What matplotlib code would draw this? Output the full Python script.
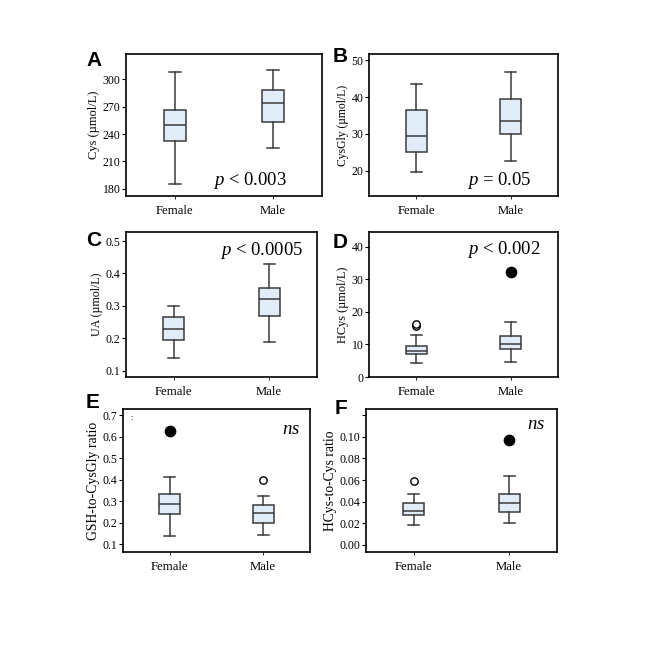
import numpy as np
import matplotlib
matplotlib.use("Agg")
import matplotlib.pyplot as plt

plt.rcParams["font.family"] = "Liberation Serif"
plt.rcParams["mathtext.fontset"] = "custom"
plt.rcParams["mathtext.rm"] = "Liberation Serif"
plt.rcParams["mathtext.it"] = "Liberation Serif:italic"

''' Data (read off the figure): whisker low, Q1, median, Q3, whisker high '''
groups = ["Female", "Male"]

cys_female = [185, 232, 250, 266, 308]
cys_male = [225, 253, 274, 289, 310]

cysgly_female = [19.5, 25.0, 29.5, 36.5, 43.5]
cysgly_male = [22.7, 30.0, 33.5, 39.5, 46.8]

ua_female = [0.14, 0.195, 0.23, 0.265, 0.30]
ua_male = [0.19, 0.27, 0.32, 0.355, 0.43]

hcys_female = [4.3, 7.0, 8.0, 9.5, 12.8]
hcys_male = [4.5, 8.7, 10.2, 12.7, 16.8]
hcys_open = [[15.5, 16.3], []]
hcys_filled = [[], [32.2]]

gsh_female = [0.14, 0.24, 0.287, 0.332, 0.41]
gsh_male = [0.142, 0.197, 0.243, 0.28, 0.322]
gsh_open = [[], [0.398]]
gsh_filled = [[0.625], []]

ratio_female = [0.018, 0.028, 0.031, 0.039, 0.047]
ratio_male = [0.020, 0.030, 0.039, 0.047, 0.064]
ratio_open = [[0.059], []]
ratio_filled = [[], [0.097]]

''' Panel setup '''
panels = [
  dict(letter="A", stats=[cys_female, cys_male], open=[[], []], filled=[[], []],
       ylabel="Cys (µmol/L)", ylsize=9, ylim=(172, 328), yticks=[180, 210, 240, 270, 300], fmt="%d",
       txt=r"$p$ < 0.003", tx=0.82, ty=0.11,
       rect=[126, 54, 196, 142], lx=86, ly=60),
  dict(letter="B", stats=[cysgly_female, cysgly_male], open=[[], []], filled=[[], []],
       ylabel="CysGly (µmol/L)", ylsize=8.4, ylim=(13.1, 51.7), yticks=[20, 30, 40, 50], fmt="%d",
       txt=r"$p$ = 0.05", tx=0.86, ty=0.11,
       rect=[369, 54, 189, 142], lx=333, ly=57),
  dict(letter="C", stats=[ua_female, ua_male], open=[[], []], filled=[[], []],
       ylabel="UA (µmol/L)", ylsize=8.6, ylim=(0.0805, 0.528), yticks=[0.1, 0.2, 0.3, 0.4, 0.5], fmt="%.1f",
       txt=r"$p$ < 0.0005", tx=0.93, ty=0.87,
       rect=[126, 232, 191, 145], lx=86, ly=241),
  dict(letter="D", stats=[hcys_female, hcys_male], open=hcys_open, filled=hcys_filled,
       ylabel="HCys (µmol/L)", ylsize=8.8, ylim=(0, 44.5), yticks=[0, 10, 20, 30, 40], fmt="%d",
       txt=r"$p$ < 0.002", tx=0.91, ty=0.88,
       rect=[369, 232, 189, 145], lx=333, ly=243),
  dict(letter="E", stats=[gsh_female, gsh_male], open=gsh_open, filled=gsh_filled,
       ylabel="GSH-to-CysGly ratio", ylsize=9.9, ylim=(0.064, 0.728),
       yticks=[0.1, 0.2, 0.3, 0.4, 0.5, 0.6, 0.7], fmt="%.1f",
       txt=r"$ns$", tx=0.945, ty=0.86,
       rect=[123, 409, 187, 143], lx=86, ly=403),
  dict(letter="F", stats=[ratio_female, ratio_male], open=ratio_open, filled=ratio_filled,
       ylabel="HCys-to-Cys ratio", ylsize=9.8, ylim=(-0.0065, 0.1256),
       yticks=[0.0, 0.02, 0.04, 0.06, 0.08, 0.10, 0.12], fmt="%.2f",
       txt=r"$ns$", tx=0.94, ty=0.89,
       rect=[366, 409, 191, 143], lx=335, ly=408),
]

W, H = 662, 659
fig = plt.figure(figsize=(W / 100, H / 100), dpi=100)

box_face = "#e1ecf9"
edge = "#3a3a3a"

for p in panels:
  x0, y0, w, h = p["rect"]
  ax = fig.add_axes([x0 / W, (H - y0 - h) / H, w / W, h / H])
  bxp_stats = []
  for s, name in zip(p["stats"], groups):
    bxp_stats.append(dict(whislo=s[0], q1=s[1], med=s[2], q3=s[3], whishi=s[4],
                          fliers=[], label=name))
  ax.bxp(bxp_stats, positions=[1, 2], widths=0.22, patch_artist=True,
         showfliers=False, capwidths=0.12,
         boxprops=dict(facecolor=box_face, edgecolor=edge, linewidth=1.1),
         medianprops=dict(color=edge, linewidth=1.1),
         whiskerprops=dict(color=edge, linewidth=1.1),
         capprops=dict(color=edge, linewidth=1.1))
  for i in range(2):
    if p["open"][i]:
      ax.scatter([i + 1] * len(p["open"][i]), p["open"][i], s=28,
                 facecolors="white", edgecolors="black", linewidths=1.0, zorder=3)
    if p["filled"][i]:
      ax.scatter([i + 1] * len(p["filled"][i]), p["filled"][i], s=55,
                 color="black", zorder=3)

  ax.set_xlim(0.5, 2.5)
  ax.set_ylim(*p["ylim"])
  ax.set_yticks(p["yticks"])
  # the top tick of F carries no label
  labels = [p["fmt"] % v for v in p["yticks"]]
  if p["letter"] == "F":
    labels[-1] = ""
  ax.set_yticklabels(labels)
  ax.set_xticks([1, 2])
  ax.set_xticklabels(groups)
  ax.tick_params(axis="y", labelsize=8.5, length=3, width=0.8, pad=1)
  ax.tick_params(axis="x", labelsize=9.2, length=2.5, width=0.6, pad=4)
  ax.set_ylabel(p["ylabel"], fontsize=p["ylsize"], labelpad=1.5)
  for sp in ax.spines.values():
    sp.set_color("black")
    sp.set_linewidth(1.2)
  ax.text(p["tx"], p["ty"], p["txt"], transform=ax.transAxes,
          ha="right", va="center", fontsize=13.5)
  fig.text(p["lx"] / W, 1 - p["ly"] / H, p["letter"], family="Liberation Sans",
           fontweight="bold", fontsize=15, ha="left", va="center")

# small stray mark at top-left of panel E
fig.text(130 / W, 1 - 418 / H, ":", fontsize=6, ha="left", va="center")

fig.savefig("out.png", dpi=100)
